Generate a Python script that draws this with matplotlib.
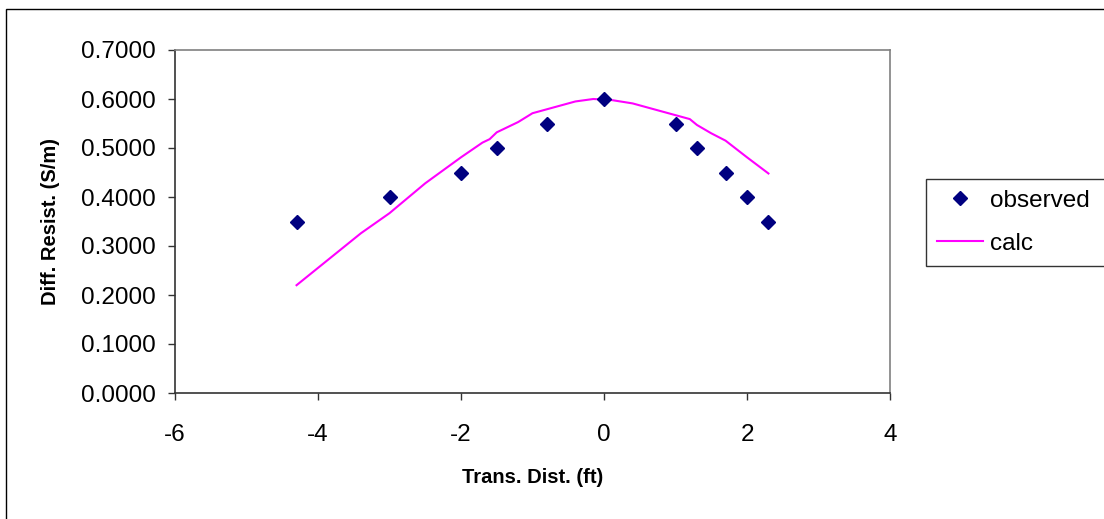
import matplotlib
matplotlib.use("Agg")
import matplotlib.pyplot as plt
from matplotlib.patches import Rectangle
from matplotlib.ticker import FixedLocator, FormatStrFormatter

plt.rcParams['font.family'] = ['Liberation Sans', 'DejaVu Sans']
plt.rcParams['axes.unicode_minus'] = False

# Measured differential resistivity across the transect
obs_x = [-4.3, -3.0, -2.0, -1.5, -0.8, 0.0, 1.0, 1.3, 1.7, 2.0, 2.3]
obs_y = [0.35, 0.40, 0.45, 0.50, 0.55, 0.60, 0.55, 0.50, 0.45, 0.40, 0.35]

# Model prediction
calc_x = [-4.3, -3.4, -3.0, -2.5, -2.0, -1.7, -1.6, -1.5, -1.2, -1.0, -0.4,
          -0.15, 0.1, 0.4, 1.0, 1.2, 1.3, 1.5, 1.7, 2.0, 2.3]
calc_y = [0.220, 0.326, 0.367, 0.428, 0.481, 0.511, 0.518, 0.532, 0.553, 0.571, 0.595,
          0.600, 0.598, 0.591, 0.567, 0.559, 0.547, 0.530, 0.515, 0.481, 0.448]

x_ticks = [-6, -4, -2, 0, 2, 4]
y_ticks = [0.0, 0.1, 0.2, 0.3, 0.4, 0.5, 0.6, 0.7]

W, H = 1104, 519
fig = plt.figure(figsize=(W / 100, H / 100), dpi=100)

# outer chart frame
fig.patches.append(Rectangle((6 / W, -0.1), 1.2, 1 - 9 / H + 0.1,
                             transform=fig.transFigure, fill=False,
                             edgecolor='black', linewidth=1.0))

ax = fig.add_axes([175 / W, 1 - 393 / H, (890 - 175) / W, (393 - 50) / H])

ax.plot(obs_x, obs_y, linestyle='none', marker='D', markersize=7,
        color='#000080', label='observed', zorder=3)
ax.plot(calc_x, calc_y, color='#FF00FF', linewidth=1.5, label='calc', zorder=2)

ax.set_xlim(-6, 4)
ax.set_ylim(0, 0.7)
ax.xaxis.set_major_locator(FixedLocator(x_ticks))
ax.yaxis.set_major_locator(FixedLocator(y_ticks))
ax.yaxis.set_major_formatter(FormatStrFormatter('%.4f'))
ax.xaxis.set_major_formatter(FormatStrFormatter('%d'))

ax.tick_params(axis='both', direction='out', length=5, width=1, labelsize=17.5,
               color='#333333')
ax.tick_params(axis='y', pad=9)
ax.tick_params(axis='x', pad=17)

for side in ('top', 'right'):
    ax.spines[side].set_color('#808080')
    ax.spines[side].set_linewidth(1.2)
for side in ('left', 'bottom'):
    ax.spines[side].set_color('#333333')
    ax.spines[side].set_linewidth(1.2)

ax.set_xlabel('Trans. Dist. (ft)', fontsize=14.5, fontweight='bold', labelpad=16)
ax.set_ylabel('Diff. Resist. (S/m)', fontsize=14.5, fontweight='bold', labelpad=15)

leg = fig.legend(loc='upper left',
                 bbox_to_anchor=(926 / W, (519 - 265) / H, 200 / W, 86 / H),
                 mode='expand', borderaxespad=0, fontsize=17.5,
                 fancybox=False, frameon=True, handlelength=1.9,
                 handletextpad=0.3, labelspacing=0.85, borderpad=0.45)
leg.get_frame().set_edgecolor('black')
leg.get_frame().set_linewidth(1.0)

fig.savefig('out.png', dpi=100)
